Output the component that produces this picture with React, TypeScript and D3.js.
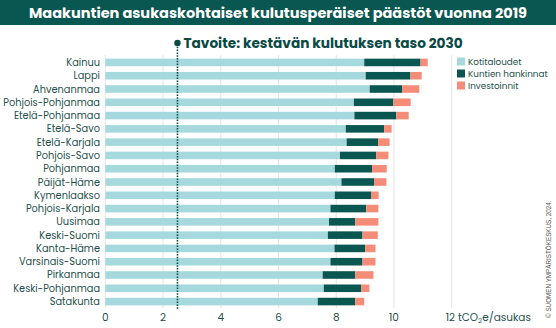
import React from "react";
import * as d3 from "d3";

const regions = ["Kainuu","Lappi","Ahvenanmaa","Pohjois-Pohjanmaa","Etelä-Pohjanmaa","Etelä-Savo","Etelä-Karjala","Pohjois-Savo","Pohjanmaa","Päijät-Häme","Kymenlaakso","Pohjois-Karjala","Uusimaa","Keski-Suomi","Kanta-Häme","Varsinais-Suomi","Pirkanmaa","Keski-Pohjanmaa","Satakunta"];
const kotitaloudet = [8.97,9.02,9.16,8.61,8.63,8.33,8.36,8.13,7.95,8.18,7.95,7.80,7.75,7.71,7.94,7.80,7.53,7.57,7.36];
const kuntienHankinnat = [1.95,1.55,1.12,1.37,1.45,1.33,1.09,1.26,1.29,1.13,1.27,1.24,0.91,1.20,1.06,1.11,1.13,1.30,1.30];
const investoinnit = [0.25,0.39,0.60,0.60,0.43,0.26,0.40,0.42,0.51,0.43,0.25,0.42,0.80,0.53,0.36,0.45,0.63,0.28,0.31];
const seriesNames = ["Kotitaloudet","Kuntien hankinnat","Investoinnit"];
const seriesColors = ["#a5d9dd","#0a5650","#f48c78"];
const xTicks = [0,2,4,6,8,10,12];
const target = 2.5;
const title = "Maakuntien asukaskohtaiset kulutusperäiset päästöt vuonna 2019";
const targetLabel = "Tavoite: kestävän kulutuksen taso 2030";

export default function App() {
  const W = 556, H = 328;
  const x = d3.scaleLinear().domain([0, 12]).range([105.3, 451.7]);
  const y = d3.scaleBand().domain(regions).range([56, 308]).paddingInner(0.43).paddingOuter(0.2);
  const data = regions.map((r, i) => ({ region: r, a: kotitaloudet[i], b: kuntienHankinnat[i], c: investoinnit[i] }));
  const stack = d3.stack<any>().keys(["a", "b", "c"])(data);
  const font = "Poppins, Inter, 'Noto Sans', sans-serif";
  const textCol = "#1d4f4b";
  return (
    <div style={{ position: "absolute", left: 0, top: 0 }}>
      <svg width={W} height={H} style={{ display: "block" }}>
        <rect x={0} y={0} width={W} height={H} fill="#ffffff" />
        <rect x={0} y={0} width={W} height={25} fill="#0a5650" />
        <text x={W / 2} y={17.5} textAnchor="middle" fill="#fff" fontFamily={font} fontWeight={700} fontSize={14.5}>{title}</text>
        {xTicks.map(t => (
          <line key={t} x1={x(t)} x2={x(t)} y1={55} y2={308} stroke="#e4e4e4" strokeWidth={1} />
        ))}
        {stack.map((s, si) => (
          <g key={si} fill={seriesColors[si]}>
            {s.map((d: any, i: number) => (
              <rect key={i} x={x(d[0])} y={y(regions[i])!} width={x(d[1]) - x(d[0])} height={y.bandwidth()} />
            ))}
          </g>
        ))}
        {regions.map(r => (
          <text key={r} x={100} y={y(r)! + y.bandwidth() / 2 + 3.5} textAnchor="end" fill={textCol} fontFamily={font} fontSize={9.8}>{r}</text>
        ))}
        <line x1={x(target)} x2={x(target)} y1={44} y2={310} stroke="#0a4a45" strokeWidth={1.6} strokeDasharray="1.5,1.3" />
        <circle cx={x(target)} cy={43} r={3.2} fill="#0a4a45" />
        <text x={x(target) + 6} y={48} fill="#0a4a45" fontFamily={font} fontWeight={700} fontSize={13.7}>{targetLabel}</text>
        {xTicks.map(t => t < 12 ? (
          <text key={t} x={x(t)} y={321} textAnchor="middle" fill={textCol} fontFamily={font} fontSize={10.5}>{t}</text>
        ) : (
          <text key={t} x={x(t) - 6} y={321} fill={textCol} fontFamily={font} fontSize={10.5}>
            {t} tCO<tspan fontSize={7} dy={2}>2</tspan><tspan dy={-2}>e/asukas</tspan>
          </text>
        ))}
        {seriesNames.map((n, i) => (
          <g key={n}>
            <rect x={457} y={57.5 + i * 12} width={8} height={8} fill={seriesColors[i]} />
            <text x={468} y={65 + i * 12} fill={textCol} fontFamily={font} fontSize={8.8}>{n}</text>
          </g>
        ))}
        <text transform="translate(551,318) rotate(-90)" fill="#555" fontFamily="'Liberation Sans', Arial, sans-serif" fontSize={6.3}>© SUOMEN YMPÄRISTÖKESKUS, 2024.</text>
      </svg>
    </div>
  );
}
